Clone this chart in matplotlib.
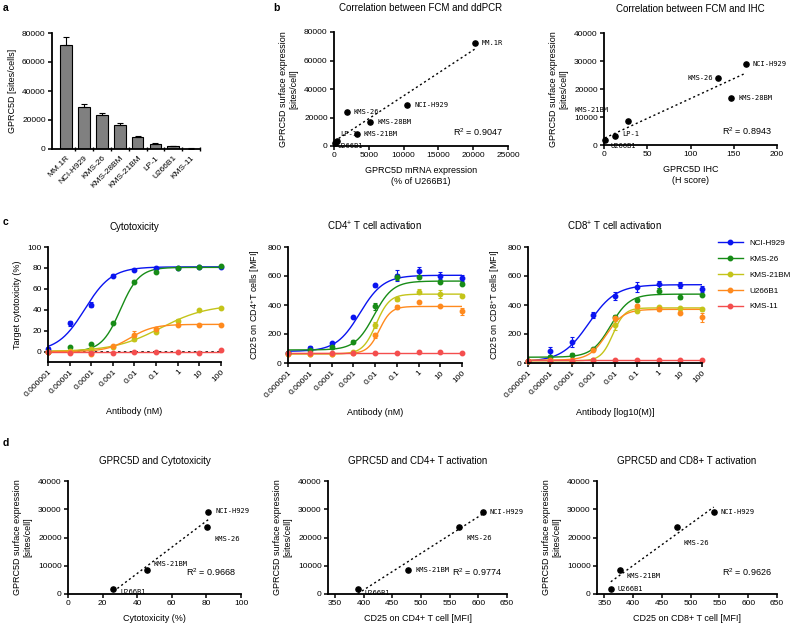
import matplotlib
matplotlib.use("Agg")
import matplotlib.pyplot as plt
import numpy as np
from matplotlib.lines import Line2D

plt.rcParams['font.family'] = ['Liberation Sans', 'DejaVu Sans']
plt.rcParams['mathtext.fontset'] = 'custom'
plt.rcParams['mathtext.rm'] = 'Liberation Sans'
plt.rcParams['mathtext.it'] = 'Liberation Sans'
plt.rcParams['axes.linewidth'] = 1.3

# ---- data ----
# a: surface expression per cell line
bar_lines = ["MM.1R", "NCI-H929", "KMS-26", "KMS-28BM", "KMS-21BM", "LP-1", "U266B1", "KMS-11"]
bar_sites = [72000, 28900, 23500, 16600, 8500, 3200, 1800, 300]
bar_err = [5000, 1900, 1200, 1100, 450, 650, 450, 100]

# b: FCM vs ddPCR
pcr_lines = ["MM.1R", "NCI-H929", "KMS-26", "KMS-28BM", "KMS-21BM", "LP-1", "U266B1"]
pcr_mrna = [20200, 10500, 1850, 5200, 3300, 450, 100]
pcr_sites = [72300, 29000, 23700, 16800, 8500, 3300, 1800]

# b: FCM vs IHC
ihc_lines = ["NCI-H929", "KMS-26", "KMS-28BM", "KMS-21BM", "LP-1", "U266B1"]
ihc_score = [164, 132, 147, 28, 13, 1]
ihc_sites = [29000, 23800, 16900, 8400, 3300, 1800]

# c: dose response
cell_lines = ["NCI-H929", "KMS-26", "KMS-21BM", "U266B1", "KMS-11"]
line_colors = ["#0A14F0", "#178C17", "#C4C41A", "#FF8A1E", "#F44E4E"]
conc_nM = [1e-6, 1e-5, 1e-4, 1e-3, 1e-2, 1e-1, 1, 10, 100]
conc_labels = ["0.000001", "0.00001", "0.0001", "0.001", "0.01", "0.1", "1", "10", "100"]

cyto_mean = [[2, 27, 45, 72.5, 78, 79.6, 80.3, 80.6, 81],
             [-0.5, 4, 7.6, 27.4, 67, 76, 80, 80.5, 81.5],
             [0, 0.6, 2, 4, 12, 19, 29.6, 40, 41.7],
             [-0.5, 0, -2, 5, 16, 22, 25.8, 25.8, 25.5],
             [-0.6, -1.3, -1.3, -1.6, -0.6, -0.6, -0.6, -1, 1.3]]
cyto_err = [[2, 2.5, 2.5, 1.5, 1, 1, 1, 1, 1],
            [0.5, 0.5, 0.8, 1, 1, 1, 0.8, 0.8, 1],
            [0.3, 0.3, 0.5, 1, 1.5, 1.5, 1.5, 1, 1],
            [0.5, 0.5, 1, 1.5, 4, 1, 1, 1, 1],
            [0.5, 0.5, 0.5, 0.5, 0.5, 0.5, 0.5, 0.5, 0.5]]
# 4PL fit: bottom, top, logEC50 (nM), hill
cyto_fit = [[0, 81, -4.3, 0.7],
            [0, 80.5, -2.65, 1.0],
            [0, 45, -0.8, 0.4],
            [0, 26, -2.2, 0.8],
            [-0.7, -0.7, 0, 1]]

cd4_mean = [[67, 102, 136, 317, 536, 603, 634, 603, 587],
            [70, 90, 108, 148, 391, 594, 594, 562, 548],
            [62, 62, 65, 79, 264, 442, 492, 476, 465],
            [60, 60, 62, 67, 190, 384, 418, 393, 356],
            [69, 68, 68, 68, 70, 70, 79, 74, 68]]
cd4_err = [[8, 15, 12, 10, 12, 40, 25, 25, 20],
           [5, 5, 8, 8, 25, 20, 10, 12, 12],
           [4, 4, 4, 5, 20, 12, 15, 25, 8],
           [4, 4, 4, 4, 20, 15, 5, 8, 25],
           [3, 3, 3, 3, 3, 3, 4, 3, 3]]
cd4_fit = [[80, 605, -2.7, 0.8],
           [90, 565, -2.05, 1.0],
           [62, 475, -1.95, 1.4],
           [65, 390, -1.8, 1.6],
           [70, 70, 0, 1]]

cd8_mean = [[14, 83, 146, 331, 462, 523, 543, 539, 513],
            [14, 42, 58, 97, 314, 435, 499, 458, 469],
            [14, 12, 12, 23, 261, 361, 388, 377, 372],
            [14, 18, 23, 92, 312, 395, 370, 347, 314],
            [12, 15, 15, 18, 20, 22, 24, 24, 20]]
cd8_err = [[5, 25, 35, 20, 25, 35, 25, 20, 20],
           [5, 8, 8, 8, 15, 10, 20, 20, 10],
           [4, 4, 4, 5, 30, 10, 8, 10, 10],
           [4, 4, 4, 8, 15, 15, 10, 10, 30],
           [3, 3, 3, 3, 3, 3, 3, 3, 3]]
cd8_fit = [[10, 540, -3.2, 0.7],
           [40, 475, -2.2, 1.0],
           [15, 380, -2.1, 1.6],
           [20, 370, -2.4, 1.1],
           [18, 18, 0, 1]]

# d: correlations
d_lines = ["NCI-H929", "KMS-26", "KMS-21BM", "U266B1"]
d_sites = [29000, 23800, 8500, 1800]
d_cyto = [81, 80.5, 45.5, 26.3]
d_cd4 = [608, 567, 478, 390]
d_cd8 = [540, 476, 377, 361]

W, H = 793, 631
fig = plt.figure(figsize=(W / 100, H / 100), dpi=100)


def box(x0, x1, ytop, ybot):
    return [x0 / W, 1 - ybot / H, (x1 - x0) / W, (ybot - ytop) / H]


def style(ax):
    ax.spines['top'].set_visible(False)
    ax.spines['right'].set_visible(False)
    ax.tick_params(labelsize=6, length=3, width=1.1, pad=1.5)


def fourpl(xlog, b, t, c, h):
    return b + (t - b) / (1 + 10 ** ((c - xlog) * h))


label_font = dict(family='DejaVu Sans Mono', fontsize=5.1)

# ---- a ----
ax = fig.add_axes(box(52, 200, 33, 149))
style(ax)
xpos = np.arange(len(bar_lines))
ax.bar(xpos, bar_sites, width=0.65, color='#808080', edgecolor='black', linewidth=0.8)
ax.errorbar(xpos, bar_sites, yerr=[np.zeros(len(bar_err)), bar_err], fmt='none',
            ecolor='black', elinewidth=0.8, capsize=2.5, capthick=0.8)
ax.set_xlim(-0.8, 7.4)
ax.set_ylim(0, 80000)
ax.set_yticks(range(0, 80001, 20000))
ax.set_xticks(xpos)
ax.set_xticklabels(bar_lines, rotation=45, ha='right', rotation_mode='anchor')
ax.tick_params(axis='x', length=0, pad=4)
ax.set_xticks(xpos + 0.5, minor=True)
ax.tick_params(axis='x', which='minor', length=3, direction='inout', width=1)
ax.set_ylabel("GPRC5D [sites/cells]", fontsize=6.5)


def scatter_fit(ax, xs, ys, names, offsets, r2, r2pos=(0.97, 0.07)):
    ax.scatter(xs, ys, s=14, color='black', zorder=3, clip_on=False)
    k, b0 = np.polyfit(xs, ys, 1)
    xl = np.array([min(xs), max(xs)])
    ax.plot(xl, k * xl + b0, ls=(0, (1.5, 2)), color='black', lw=1)
    for x, y, n, off in zip(xs, ys, names, offsets):
        ax.annotate(n, (x, y), xytext=off, textcoords='offset points',
                    va='center', ha='left' if off[0] >= 0 else 'right', **label_font)
    ax.text(r2pos[0], r2pos[1], "R$^2$ = " + r2, transform=ax.transAxes,
            ha='right', va='bottom', fontsize=6.5)


# ---- b left ----
ax = fig.add_axes(box(334, 508, 32, 146))
style(ax)
scatter_fit(ax, pcr_mrna, pcr_sites, pcr_lines,
            [(5, 0), (5, 0), (5, 0), (5, 0), (5, 0), (2, 5), (2, -2)], "0.9047")
ax.set_xlim(0, 25000)
ax.set_ylim(0, 80000)
ax.set_xticks(range(0, 25001, 5000))
ax.set_yticks(range(0, 80001, 20000))
ax.set_title("Correlation between FCM and ddPCR", fontsize=7, pad=15)
ax.set_xlabel("GPRC5D mRNA expression\n(% of U266B1)", fontsize=6.5, labelpad=5)
ax.set_ylabel("GPRC5D surface expression\n[sites/cell]", fontsize=6.5, labelpad=4)

# ---- b right ----
ax = fig.add_axes(box(604, 777, 33, 145))
style(ax)
scatter_fit(ax, ihc_score, ihc_sites, ihc_lines,
            [(5, 0), (-4, 0), (5, 0), (-14, 8), (5, 1), (4, -4)], "0.8943")
ax.set_xlim(0, 200)
ax.set_ylim(0, 40000)
ax.set_xticks(range(0, 201, 50))
ax.set_yticks(range(0, 40001, 10000))
ax.set_title("Correlation between FCM and IHC", fontsize=7, pad=15)
ax.set_xlabel("GPRC5D IHC\n(H score)", fontsize=6.5, labelpad=5)
ax.set_ylabel("GPRC5D surface expression\n[sites/cell]", fontsize=6.5, labelpad=4)


# ---- c ----
def dose_panel(ax, means, errs, fits, ylim, yticks, title, ylabel, xlabel):
    style(ax)
    xfine = np.linspace(-6, 2, 300)
    for m, e, f, col in zip(means, errs, fits, line_colors):
        ax.plot(10 ** xfine, fourpl(xfine, *f), color=col, lw=1)
        ax.errorbar(conc_nM, m, yerr=e, fmt='o', color=col, ms=3.2,
                    elinewidth=0.8, capsize=1.5, capthick=0.8, clip_on=False)
    ax.set_xscale('log')
    ax.set_xlim(1e-6, 100)
    ax.set_ylim(*ylim)
    ax.set_yticks(yticks)
    ax.set_xticks(conc_nM)
    ax.set_xticklabels(conc_labels, rotation=45, ha='right', rotation_mode='anchor')
    ax.minorticks_off()
    ax.set_title(title, fontsize=7, pad=12)
    ax.set_ylabel(ylabel, fontsize=6.5)
    ax.set_xlabel(xlabel, fontsize=6.5, labelpad=6)


ax = fig.add_axes(box(48, 221, 247, 362))
ax.axhline(0, ls=(0, (1.5, 2)), color='black', lw=1.2, zorder=1)
dose_panel(ax, cyto_mean, cyto_err, cyto_fit, (-10, 100), range(0, 101, 20),
           "Cytotoxicity", "Target cytotoxicity (%)", "Antibody (nM)")

ax = fig.add_axes(box(288, 462, 247, 363))
dose_panel(ax, cd4_mean, cd4_err, cd4_fit, (0, 800), range(0, 801, 200),
           "CD4$^{+}$ T cell activation", "CD25 on CD4$^{+}$T cells [MFI]", "Antibody (nM)")

ax = fig.add_axes(box(528, 702, 247, 363))
dose_panel(ax, cd8_mean, cd8_err, cd8_fit, (0, 800), range(0, 801, 200),
           "CD8$^{+}$ T cell activation", "CD25 on CD8$^{+}$T cells [MFI]", "Antibody [log10(M)]")

handles = [Line2D([], [], color=c, marker='o', ms=3.2, lw=1) for c in line_colors]
fig.legend(handles, cell_lines, loc='upper left', bbox_to_anchor=(718 / W, 1 - 239 / H),
           frameon=False, fontsize=5.9, handlelength=3.0, labelspacing=1.0,
           handletextpad=0.8, borderpad=0, borderaxespad=0)

# ---- d ----
d_axes = [(68, 241, d_cyto, (0, 100), range(0, 101, 20), "GPRC5D and Cytotoxicity",
           "Cytotoxicity (%)", "0.9668", [(5, 1), (5, -9), (5, 4), (5, -2)]),
          (328, 507, d_cd4, (338, 650), range(350, 651, 50), "GPRC5D and CD4+ T activation",
           "CD25 on CD4+ T cell [MFI]", "0.9774", [(5, 0), (5, -8), (5, 0), (5, -3)]),
          (597, 777, d_cd8, (337, 650), range(350, 651, 50), "GPRC5D and CD8+ T activation",
           "CD25 on CD8+ T cell [MFI]", "0.9626", [(5, 0), (5, -12), (5, -4), (5, 0)])]
for x0, x1, xs, xlim, xt, title, xlabel, r2, offs in d_axes:
    ax = fig.add_axes(box(x0, x1, 481, 594))
    style(ax)
    scatter_fit(ax, xs, d_sites, d_lines, offs, r2, r2pos=(0.97, 0.14))
    ax.set_xlim(*xlim)
    ax.set_xticks(list(xt))
    ax.set_ylim(0, 40000)
    ax.set_yticks(range(0, 40001, 10000))
    ax.set_title(title, fontsize=7, pad=12)
    ax.set_xlabel(xlabel, fontsize=6.5, labelpad=5)
    ax.set_ylabel("GPRC5D surface expression\n[sites/cell]", fontsize=6.5, labelpad=4)

# panel letters
for letter, x, y in [("a", 3, 8), ("b", 273, 8), ("c", 3, 222), ("d", 3, 443)]:
    fig.text(x / W, 1 - y / H, letter, fontsize=7.5, fontweight='bold', va='center')

fig.savefig("out.png", dpi=100)
